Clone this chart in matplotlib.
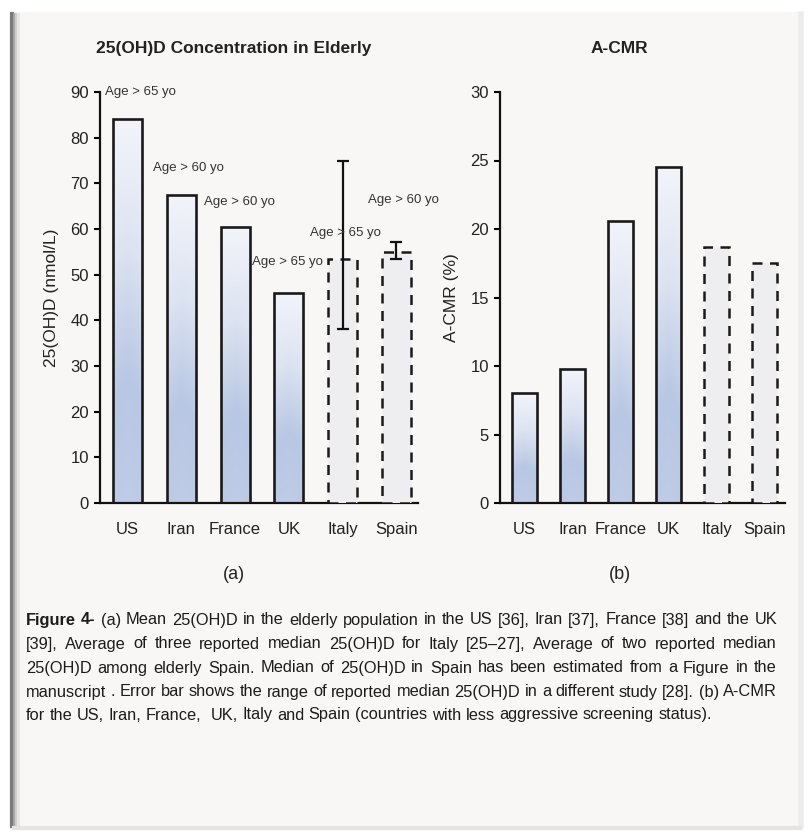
import numpy as np
import matplotlib
matplotlib.use("Agg")
import matplotlib.pyplot as plt
from matplotlib import font_manager
from matplotlib.colors import LinearSegmentedColormap
from matplotlib.patches import Rectangle
from matplotlib.lines import Line2D

# ---------------- data ----------------
countries = ['US', 'Iran', 'France', 'UK', 'Italy', 'Spain']
vitd = [84, 67.5, 60.5, 46, 53.5, 55]
vitd_err_low = [None, None, None, None, 38, 53.5]
vitd_err_high = [None, None, None, None, 75, 57.2]
age_labels = ['Age > 65 yo', 'Age > 60 yo', 'Age > 60 yo', 'Age > 65 yo', 'Age > 65 yo', 'Age > 60 yo']
acmr = [8.0, 9.8, 20.6, 24.5, 18.7, 17.5]
dashed = [False, False, False, False, True, True]
left_ticks = [0, 10, 20, 30, 40, 50, 60, 70, 80, 90]
right_ticks = [0, 5, 10, 15, 20, 25, 30]
caption_lines = [
    "Figure 4- (a) Mean 25(OH)D in the elderly population in the US [36], Iran [37], France [38] and the UK",
    "[39], Average of three reported median 25(OH)D for Italy [25\u201327], Average of two reported median",
    "25(OH)D among elderly Spain. Median of 25(OH)D in Spain has been estimated from a Figure in the",
    "manuscript . Error bar shows the range of reported median 25(OH)D in a different study [28]. (b) A-CMR",
    "for the US, Iran, France,  UK, Italy and Spain (countries with less aggressive screening status).",
]

# ---------------- fonts ----------------
names = {f.name for f in font_manager.fontManager.ttflist}
NARROW = ['Liberation Sans Narrow', 'Liberation Sans', 'DejaVu Sans'] if 'Liberation Sans Narrow' in names else ['Liberation Sans', 'DejaVu Sans']
WIDE = ['Liberation Sans', 'DejaVu Sans']
plt.rcParams['font.family'] = NARROW

W, H = 812, 835
fig = plt.figure(figsize=(W / 100, H / 100), dpi=100)
fig.patch.set_facecolor('white')

# frame background
fig.patches.append(Rectangle((12 / W, 1 - 828 / H), (800 - 12) / W, (828 - 12) / H,
                             transform=fig.transFigure, facecolor='#f9f7f6', edgecolor='none', zorder=-10))
for i, (c, lw) in enumerate([('#7a7a7a', 3.0), ('#a8a8a8', 2.0), ('#d0d0d0', 2.0), ('#e6e6e6', 2.0)]):
    fig.lines.append(Line2D([(12 + i * 2) / W] * 2, [1 - 826 / H, 1 - 14 / H], transform=fig.transFigure,
                            color=c, lw=lw, zorder=-9))
fig.lines.append(Line2D([801 / W] * 2, [1 - 826 / H, 1 - 14 / H], transform=fig.transFigure,
                        color='#ececec', lw=4, zorder=-9))
fig.lines.append(Line2D([14 / W, 800 / W], [1 - 828 / H] * 2, transform=fig.transFigure,
                        color='#e4e4e4', lw=3, zorder=-9))

TXT = '#222222'
cmap = LinearSegmentedColormap.from_list('g', ['#f2f4fa', '#dce3f1', '#b8c7e4', '#bfcce7'])
grad = np.linspace(0, 1, 200).reshape(-1, 1)
hgrad = 1 - 0.10 * np.abs(np.linspace(-1, 1, 50))[None, :]
grad2 = grad * hgrad


def draw_panel(ax, values, ymax, ticks, width, title, ylabel, sub):
    x = np.arange(len(countries))
    bars = ax.bar(x, values, width=width, color='none', edgecolor='none', zorder=2)
    for b, d in zip(bars, dashed):
        x0, y0 = b.get_x(), b.get_y()
        w, h = b.get_width(), b.get_height()
        if d:
            ax.add_patch(Rectangle((x0, y0), w, h, facecolor='#eeeef0', edgecolor='#1a1a1a',
                                   lw=1.8, linestyle=(0, (4, 3)), zorder=3))
        else:
            im = ax.imshow(grad2, cmap=cmap, vmin=0, vmax=1, aspect='auto',
                           extent=(x0, x0 + w, y0, y0 + h), zorder=2, interpolation='bilinear')
            rect = Rectangle((x0, y0), w, h, facecolor='none', edgecolor='#1a1a1a', lw=1.9, zorder=3)
            ax.add_patch(rect)
            im.set_clip_path(rect)
    ax.set_ylim(0, ymax)
    ax.set_yticks(ticks)
    ax.set_xticks(x)
    ax.set_xticklabels(countries, fontsize=12, color=TXT)
    ax.tick_params(axis='x', length=0, pad=14)
    ax.tick_params(axis='y', length=4, width=1.5, labelsize=12, labelcolor=TXT, pad=4)
    for s in ['top', 'right']:
        ax.spines[s].set_visible(False)
    for s in ['left', 'bottom']:
        ax.spines[s].set_linewidth(1.6)
        ax.spines[s].set_color('#111111')
    ax.set_facecolor('none')
    ax.set_title(title, x=0.42, pad=28, fontsize=12.5, fontweight='bold', color=TXT)
    ax.set_ylabel(ylabel, family=WIDE, fontsize=12.5, color=TXT, labelpad=8)
    ax.text(0.42, -0.175, sub, transform=ax.transAxes, ha='center', va='center', fontsize=13, color=TXT)
    return x


# left panel
axL = fig.add_axes([100 / W, 1 - 503 / H, 318 / W, 411 / H])
xL = draw_panel(axL, vitd, 90, left_ticks, 0.54, '25(OH)D Concentration in Elderly', '25(OH)D (nmol/L)', '(a)')
axL.set_xlim(-0.51, 5.40)
for i in range(len(countries)):
    if vitd_err_low[i] is not None:
        axL.errorbar([xL[i]], [vitd[i]],
                     yerr=[[vitd[i] - vitd_err_low[i]], [vitd_err_high[i] - vitd[i]]],
                     fmt='none', ecolor='#111111', elinewidth=1.6, capsize=4, capthick=1.6, zorder=4)

label_dx = [-0.42, -0.53, -0.585, -0.68, -0.60, -0.53]
label_dy = [6.0, 5.8, 5.4, 6.8, 5.6, 11.3]
for i, lab in enumerate(age_labels):
    axL.text(xL[i] + label_dx[i], vitd[i] + label_dy[i], lab, fontsize=9.5, color='#333333',
             ha='left', va='center', zorder=5)

# right panel
axR = fig.add_axes([500 / W, 1 - 503 / H, 285 / W, 411 / H])
xR = draw_panel(axR, acmr, 30, right_ticks, 0.52, 'A-CMR', 'A-CMR (%)', '(b)')
axR.set_xlim(-0.51, 5.43)

# ---------------- caption (justified) ----------------
renderer = fig.canvas.get_renderer()
left, right = 26, 777
line_y = [620, 644, 668, 692, 715]
probe_size = 10
cap_color = '#1c1c1c'

def measure(word, weight, size):
    t = fig.text(0, 0, word, fontsize=size, fontweight=weight)
    w = t.get_window_extent(renderer).width
    t.remove()
    return w

words5 = caption_lines[4].split(' ')
sp = measure('a a', 'normal', probe_size) - 2 * measure('a', 'normal', probe_size)
nat = sum(measure(w, 'normal', probe_size) for w in words5) + sp * (len(words5) - 1)
size = probe_size * 689 / nat

for li, line in enumerate(caption_lines):
    words = line.split(' ')
    weights = ['normal'] * len(words)
    if li == 0:
        weights[0] = 'bold'
        weights[1] = 'bold'
    widths = [measure(w, wt, size) for w, wt in zip(words, weights)]
    space = measure('a a', 'normal', size) - 2 * measure('a', 'normal', size)
    if li < len(caption_lines) - 1:
        gap = (right - left - sum(widths)) / (len(words) - 1)
    else:
        gap = space
    xcur = left
    for w, wt, wd in zip(words, weights, widths):
        if w:
            fig.text(xcur / W, 1 - line_y[li] / H, w, fontsize=size, fontweight=wt,
                     color=cap_color, ha='left', va='center')
        xcur += wd + gap

fig.savefig('out.png', dpi=100, facecolor=fig.get_facecolor())
